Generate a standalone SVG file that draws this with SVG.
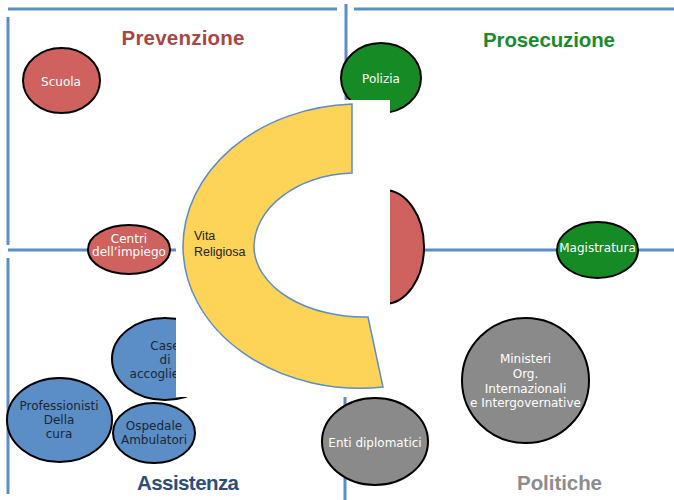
<svg xmlns="http://www.w3.org/2000/svg" width="674" height="500" viewBox="0 0 674 500">
<style>
.ln{stroke:#5b8dc7;stroke-width:3;fill:none}
.nd{stroke:#000;stroke-width:2}
.red{fill:#cf625e}
.grn{fill:#168a25}
.blu{fill:#5b8dc7}
.gry{fill:#8a8a8a}
.tw{font-family:"DejaVu Sans",sans-serif;font-size:12px;fill:#fff;text-anchor:middle}
.td{font-family:"DejaVu Sans",sans-serif;font-size:12px;fill:#1c2636;text-anchor:middle}
.hd{font-family:"Liberation Sans",Arial,sans-serif;font-weight:bold;font-size:20.5px;text-anchor:middle}
.vt{font-family:"Liberation Sans",Arial,sans-serif;font-size:12.5px;fill:#222}
</style>
<rect width="674" height="500" fill="#fff"/>
<g id="connectors">
<line class="ln" x1="8" y1="9" x2="337" y2="9"/>
<line class="ln" x1="354" y1="9" x2="674" y2="9"/>
<line class="ln" x1="8" y1="17" x2="8" y2="245"/>
<line class="ln" x1="8" y1="258" x2="8" y2="494"/>
<line class="ln" x1="8" y1="250" x2="176" y2="250"/>
<line class="ln" x1="390" y1="250" x2="674" y2="250"/>
<line class="ln" x1="346" y1="4" x2="346" y2="110"/>
<line class="ln" x1="345" y1="390" x2="345" y2="500"/>
</g>
<g id="titles">
<text class="hd" x="183" y="45" fill="#a94643" textLength="123">Prevenzione</text>
<text class="hd" x="549" y="47" fill="#1a8b2d" textLength="132">Prosecuzione</text>
<text class="hd" x="188" y="490" fill="#2d4e78" textLength="102">Assistenza</text>
<text class="hd" x="559.5" y="490" fill="#8c8c8c" textLength="85">Politiche</text>
</g>
<g id="scuola"><ellipse class="nd red" cx="61.5" cy="80.5" rx="38.5" ry="32.5"/><text class="tw" x="61" y="86">Scuola</text></g>
<g id="centri"><ellipse class="nd red" cx="129" cy="249.5" rx="41" ry="24.5"/><text class="tw" x="129" y="243">Centri</text><text class="tw" x="129" y="256">dell’impiego</text></g>
<g id="polizia"><ellipse class="nd grn" cx="381" cy="78" rx="40" ry="35"/><text class="tw" x="381" y="83">Polizia</text></g>
<g id="magistratura"><ellipse class="nd grn" cx="597.5" cy="250" rx="40.5" ry="28"/><text class="tw" x="597.5" y="252">Magistratura</text></g>
<g id="rosso"><ellipse class="nd red" cx="384" cy="247" rx="40" ry="57"/></g>
<g id="case"><ellipse class="nd blu" cx="165" cy="359" rx="53" ry="41"/><text class="td" x="165" y="350">Case</text><text class="td" x="165" y="364">di</text><text class="td" x="165" y="378">accoglienza</text></g>
<g id="professionisti"><ellipse class="nd blu" cx="59.5" cy="420" rx="52.5" ry="42"/><text class="td" x="59" y="410">Professionisti</text><text class="td" x="59" y="424">Della</text><text class="td" x="59" y="438">cura</text></g>
<g id="ospedale"><ellipse class="nd blu" cx="154" cy="433" rx="41" ry="30"/><text class="td" x="154" y="430">Ospedale</text><text class="td" x="154" y="444">Ambulatori</text></g>
<g id="enti"><ellipse class="nd gry" cx="375" cy="441.5" rx="53" ry="43.5"/><text class="tw" x="375" y="447">Enti diplomatici</text></g>
<g id="ministeri"><ellipse class="nd gry" cx="525.5" cy="380.5" rx="63.5" ry="62.5"/><text class="tw" x="525.5" y="363">Ministeri</text><text class="tw" x="525.5" y="378">Org.</text><text class="tw" x="525.5" y="393">Internazionali</text><text class="tw" x="525.5" y="407">e Intergovernative</text></g>
<g id="vita">
<rect x="176" y="100" width="214" height="297" fill="#fff"/>
<path d="M352 104 A177 143 0 0 0 183 247 A177 142 0 0 0 383 387 L368 317 A110 71 0 0 1 254 247 A104 74 0 0 1 352 173 Z" fill="#fdd458" stroke="#5b8dc7" stroke-width="1.5"/>
<text class="vt" x="194" y="240">Vita</text>
<text class="vt" x="194" y="256">Religiosa</text>
</g>
</svg>
